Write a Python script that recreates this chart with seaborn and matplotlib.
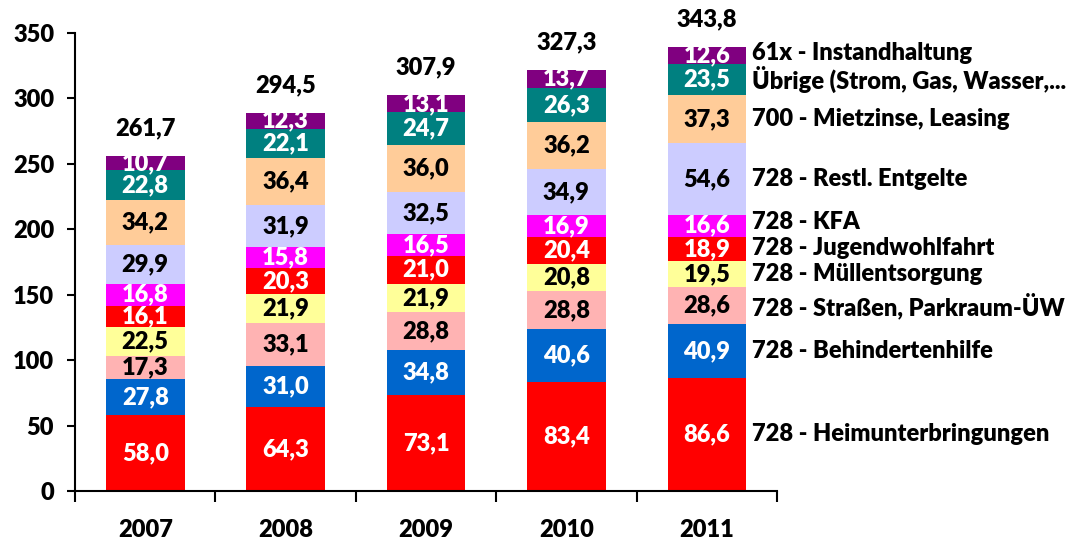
import numpy as np
import pandas as pd
import seaborn as sns
import matplotlib.pyplot as plt

years = ["2007", "2008", "2009", "2010", "2011"]

# stacked from bottom to top
categories = [
    "728 - Heimunterbringungen",
    "728 - Behindertenhilfe",
    "728 - Straßen, Parkraum-ÜW",
    "728 - Müllentsorgung",
    "728 - Jugendwohlfahrt",
    "728 - KFA",
    "728 - Restl. Entgelte",
    "700 - Mietzinse, Leasing",
    "Übrige (Strom, Gas, Wasser,...",
    "61x - Instandhaltung",
]
heim = [58.0, 64.3, 73.1, 83.4, 86.6]
behindert = [27.8, 31.0, 34.8, 40.6, 40.9]
strassen = [17.3, 33.1, 28.8, 28.8, 28.6]
muell = [22.5, 21.9, 21.9, 20.8, 19.5]
jugend = [16.1, 20.3, 21.0, 20.4, 18.9]
kfa = [16.8, 15.8, 16.5, 16.9, 16.6]
restl = [29.9, 31.9, 32.5, 34.9, 54.6]
miete = [34.2, 36.4, 36.0, 36.2, 37.3]
uebrige = [22.8, 22.1, 24.7, 26.3, 23.5]
instand = [10.7, 12.3, 13.1, 13.7, 12.6]
totals = [261.7, 294.5, 307.9, 327.3, 343.8]

colors = ["#FF0000", "#0066CC", "#FFB3B3", "#FFFF99", "#FF0000",
          "#FF00FF", "#CCCCFF", "#FFCC99", "#008080", "#800080"]
text_colors = ["white", "white", "black", "black", "white",
               "white", "black", "black", "white", "white"]

series = [heim, behindert, strassen, muell, jugend, kfa, restl, miete, uebrige, instand]
vals = np.array(series)
cum = vals.cumsum(axis=0)

fs = 17
font = dict(family="Lato", fontweight="heavy", fontsize=fs)

fig = plt.figure(figsize=(10.75, 5.42), dpi=100)
ax = fig.add_axes([0.0698, 0.094, 0.653, 0.845])

bar_w = 0.56
# draw cumulative heights from the top layer down so lower layers overlay
for i in range(len(categories) - 1, -1, -1):
    df = pd.DataFrame({"year": years, "value": cum[i]})
    sns.barplot(data=df, x="year", y="value", color=colors[i], saturation=1,
                width=bar_w, errorbar=None, ax=ax, order=years)

for i in range(len(categories)):
    for j in range(len(years)):
        v = vals[i, j]
        ax.text(j, cum[i, j] - v / 2, f"{v:.1f}".replace(".", ","),
                ha="center", va="center", color=text_colors[i], **font)

for j in range(len(years)):
    ax.annotate(f"{totals[j]:.1f}".replace(".", ","), xy=(j, cum[-1, j]),
                xytext=(0, 20), textcoords="offset points", ha="center",
                va="center", annotation_clip=False, **font)

# category labels next to the last bar
last = len(years) - 1
label_y = list(cum[:, last] - vals[:, last] / 2)
for k in range(1, len(label_y)):
    if label_y[k] - label_y[k - 1] < 20:
        label_y[k] = label_y[k - 1] + 20
for i, name in enumerate(categories):
    ax.annotate(name, xy=(last + bar_w / 2, label_y[i]), xytext=(4, 0),
                textcoords="offset points", ha="left", va="center",
                annotation_clip=False, **font)

ax.set_ylim(0, 350)
ax.set_xlim(-0.5, len(years) - 0.5)
ax.set_yticks(range(0, 351, 50))
ax.set_xlabel("")
ax.set_ylabel("")
for s in ["top", "right"]:
    ax.spines[s].set_visible(False)
for s in ["left", "bottom"]:
    ax.spines[s].set_linewidth(1.5)
    ax.spines[s].set_color("black")
ax.tick_params(axis="y", direction="out", length=6, width=1.5, pad=9)
ax.tick_params(axis="x", which="major", length=0, pad=20)
ax.set_xticks(np.arange(-0.5, len(years)), minor=True)
ax.tick_params(axis="x", which="minor", direction="out", length=8, width=1.5)
for lab in ax.get_xticklabels() + ax.get_yticklabels():
    lab.set_family("Lato")
    lab.set_fontweight("heavy")
    lab.set_fontsize(fs)

fig.savefig("out.png", dpi=100)
